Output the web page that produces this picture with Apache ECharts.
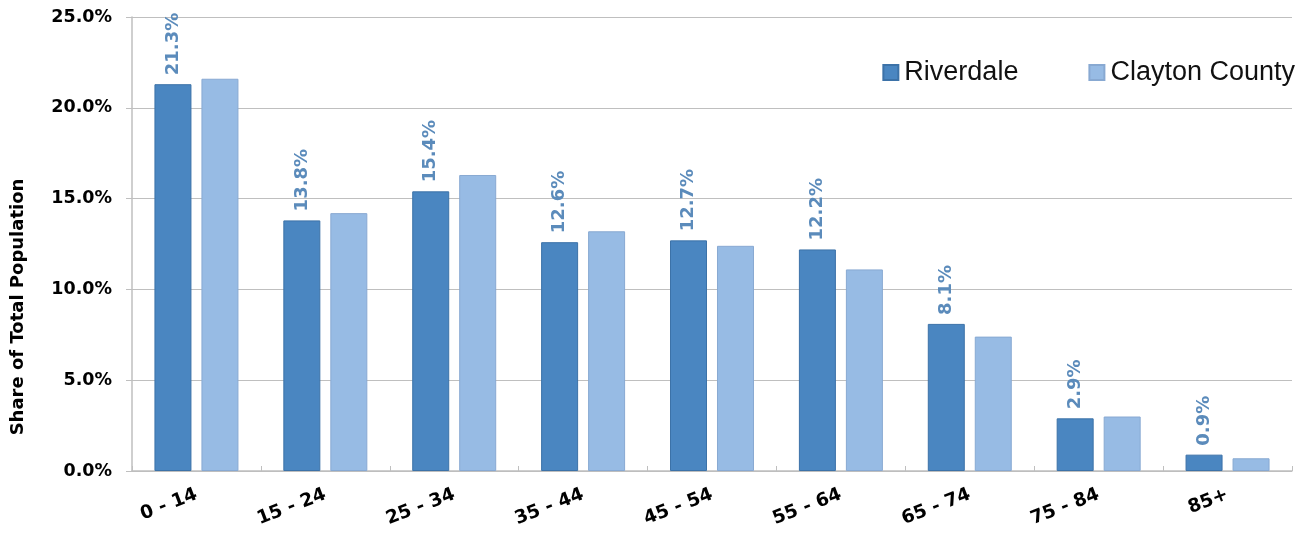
<!DOCTYPE html>
<html>
<head>
<meta charset="utf-8">
<script src="https://cdn.jsdelivr.net/npm/echarts@6/dist/echarts.min.js"></script>
<style>
  html, body { margin: 0; padding: 0; background: #ffffff; }
  #chart { width: 1312px; height: 538px; }
</style>
</head>
<body>
<div id="chart"></div>
<script>
// Age groups and population shares (%)
const ageGroups = ['0 - 14', '15 - 24', '25 - 34', '35 - 44', '45 - 54', '55 - 64', '65 - 74', '75 - 84', '85+'];
const riverdale = [21.3, 13.8, 15.4, 12.6, 12.7, 12.2, 8.1, 2.9, 0.9];
const claytonCounty = [21.6, 14.2, 16.3, 13.2, 12.4, 11.1, 7.4, 3.0, 0.7];
const seriesNames = ['Riverdale', 'Clayton County'];
const yTicks = [0, 5, 10, 15, 20, 25];

const chart = echarts.init(document.getElementById('chart'), null, { renderer: 'canvas' });

const axisGray = '#bfbfbf';

chart.setOption({
  animation: false,
  backgroundColor: '#ffffff',
  grid: { left: 132, right: 20, top: 17, bottom: 67, containLabel: false },
  legend: {
    data: seriesNames,
    right: 12,
    top: 54,
    icon: 'rect',
    itemWidth: 15,
    itemHeight: 15,
    itemGap: 70,
    textStyle: { fontFamily: 'Liberation Sans', fontSize: 27, color: '#111111', padding: [0, 0, 0, 1] }
  },
  graphic: [{
    type: 'text',
    x: 18,
    y: 307,
    rotation: Math.PI / 2,
    style: {
      text: 'Share of Total Population',
      font: 'bold 18px "DejaVu Sans"',
      fill: '#000000',
      align: 'center',
      verticalAlign: 'middle'
    }
  }],
  xAxis: {
    type: 'category',
    data: ageGroups,
    axisLine: { show: true, lineStyle: { color: axisGray, width: 1.5 } },
    axisTick: { show: true, inside: true, length: 5, lineStyle: { color: axisGray } },
    axisLabel: {
      rotate: 21,
      margin: 23,
      fontFamily: 'DejaVu Sans',
      fontWeight: 'bold',
      fontSize: 18.5,
      color: '#000000'
    }
  },
  yAxis: {
    type: 'value',
    min: yTicks[0],
    max: yTicks[yTicks.length - 1],
    interval: 5,
    axisLine: { show: true, lineStyle: { color: axisGray, width: 1.5 } },
    axisTick: { show: true, length: 6, lineStyle: { color: axisGray } },
    splitLine: { show: true, lineStyle: { color: axisGray, width: 1.2 } },
    axisLabel: {
      margin: 20,
      fontFamily: 'DejaVu Sans',
      fontWeight: 'bold',
      fontSize: 17.5,
      color: '#000000',
      formatter: v => v.toFixed(1) + '%'
    }
  },
  series: [
    {
      name: seriesNames[0],
      type: 'bar',
      data: riverdale,
      barWidth: 37,
      barGap: '27%',
      itemStyle: { color: '#4a86c1', borderColor: '#3c72a8', borderWidth: 1 },
      label: {
        show: true,
        position: 'top',
        rotate: 90,
        align: 'left',
        verticalAlign: 'middle',
        distance: 9,
        fontFamily: 'DejaVu Sans',
        fontWeight: 'bold',
        fontSize: 18,
        color: '#5b8bbb',
        formatter: p => p.value.toFixed(1) + '%'
      }
    },
    {
      name: seriesNames[1],
      type: 'bar',
      data: claytonCounty,
      barWidth: 37,
      itemStyle: { color: '#97bbe4', borderColor: '#88a9d2', borderWidth: 1 }
    }
  ]
});
</script>
</body>
</html>
